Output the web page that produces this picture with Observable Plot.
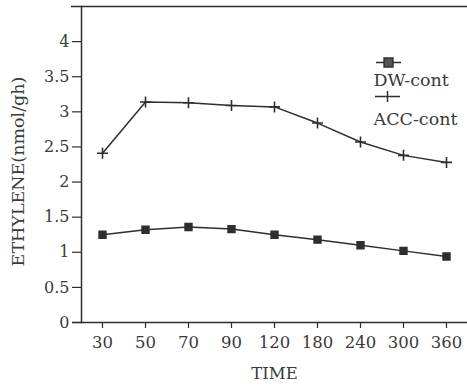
<!DOCTYPE html>
<html>
<head>
<meta charset="utf-8">
<script src="https://cdn.jsdelivr.net/npm/d3@7"></script>
<script src="https://cdn.jsdelivr.net/npm/@observablehq/plot@0.6"></script>
<style>
  html, body { margin: 0; padding: 0; background: #fff; }
  #chart svg { display: block; }
</style>
</head>
<body>
<div id="chart"></div>
<script>
const times = ["30", "50", "70", "90", "120", "180", "240", "300", "360"];
const dwCont = [1.25, 1.32, 1.36, 1.33, 1.25, 1.18, 1.10, 1.02, 0.94];
const accCont = [2.41, 3.14, 3.13, 3.09, 3.07, 2.84, 2.57, 2.38, 2.28];
const yTicks = [0, 0.5, 1, 1.5, 2, 2.5, 3, 3.5, 4];
const seriesNames = ["DW-cont", "ACC-cont"];

const dw = times.map((t, i) => ({time: t, value: dwCont[i]}));
const acc = times.map((t, i) => ({time: t, value: accCont[i]}));

const ink = "#2e2e2e";
const textInk = "#3a3a3a";
const font = "DejaVu Serif";

const plusSym = (hw, hh) => ({draw(ctx) { ctx.moveTo(-hw, 0); ctx.lineTo(hw, 0); ctx.moveTo(0, -hh); ctx.lineTo(0, hh); }});
const dashSym = (hw) => ({draw(ctx) { ctx.moveTo(-hw, 0); ctx.lineTo(hw, 0); }});

const chart = Plot.plot({
  width: 467,
  height: 390,
  marginLeft: 81,
  marginRight: 0,
  marginTop: 6,
  marginBottom: 68,
  style: {fontFamily: font, fontSize: "16px", color: textInk, background: "#fff"},
  x: {type: "point", domain: times, padding: 0.47, label: null},
  y: {domain: [0, 4.5], label: null},
  marks: [
    Plot.ruleY([4.5], {stroke: ink, strokeWidth: 1.5, insetLeft: -10}),
    Plot.ruleY([0], {stroke: ink, strokeWidth: 1.5, insetLeft: -9}),
    Plot.axisY({ticks: yTicks, tickSize: 9, tickPadding: 3, tickFormat: d => String(d), stroke: ink, strokeWidth: 1.2, fontSize: 16}),
    Plot.axisX({tickSize: 6, tickPadding: 8, stroke: ink, strokeWidth: 1.2, fontSize: 16.5}),
    Plot.frame({anchor: "left", stroke: ink, strokeWidth: 1.5}),
    Plot.line(acc, {x: "time", y: "value", stroke: ink, strokeWidth: 1.5}),
    Plot.dot(acc, {x: "time", y: "value", symbol: plusSym(5.5, 5.5), stroke: ink, strokeWidth: 1.6}),
    Plot.line(dw, {x: "time", y: "value", stroke: ink, strokeWidth: 1.5}),
    Plot.dot(dw, {x: "time", y: "value", symbol: "square", r: 3.9, fill: ink, stroke: ink}),
    // legend
    Plot.dot([seriesNames[0]], {frameAnchor: "top-left", dx: 307, dy: 56, symbol: dashSym(12.5), stroke: ink, strokeWidth: 1.5}),
    Plot.dot([seriesNames[0]], {frameAnchor: "top-left", dx: 307, dy: 56, symbol: "square", r: 5, fill: "#555", stroke: ink}),
    Plot.text([seriesNames[0]], {frameAnchor: "top-left", dx: 292, dy: 74, text: d => d, textAnchor: "start", lineAnchor: "middle", fill: textInk, fontSize: 17.5}),
    Plot.dot([seriesNames[1]], {frameAnchor: "top-left", dx: 306, dy: 90, symbol: plusSym(12.5, 5.5), stroke: ink, strokeWidth: 1.5}),
    Plot.text([seriesNames[1]], {frameAnchor: "top-left", dx: 292, dy: 112.5, text: d => d, textAnchor: "start", lineAnchor: "middle", fill: textInk, fontSize: 17.5}),
    // axis titles
    Plot.text(["TIME"], {frameAnchor: "bottom", dy: 56, text: d => d, fill: textInk, fontSize: 16.5}),
    Plot.text(["ETHYLENE(nmol/gh)"], {frameAnchor: "left", dx: -63, dy: 7, rotate: -90, text: d => d, textAnchor: "middle", lineAnchor: "middle", fill: textInk, fontSize: 17.5})
  ]
});
document.getElementById("chart").append(chart);
</script>
</body>
</html>
